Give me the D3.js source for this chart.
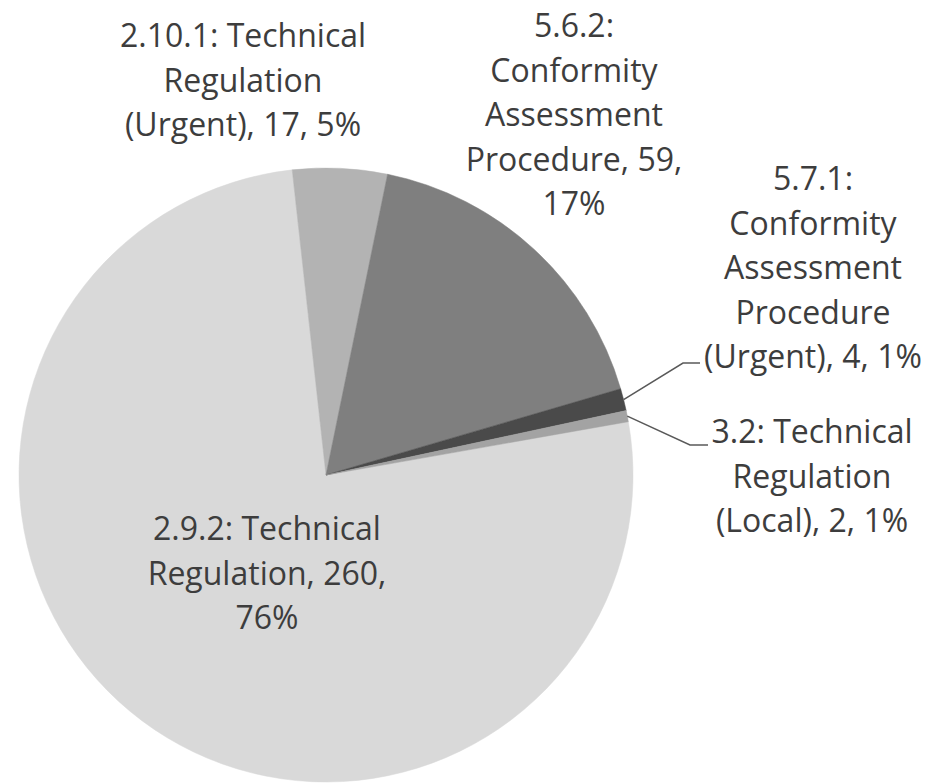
<!DOCTYPE html>
<html><head><meta charset="utf-8">
<script src="https://cdn.jsdelivr.net/npm/d3@7"></script>
<style>html,body{margin:0;padding:0;background:#fff;}svg{display:block;} text{font-variant-ligatures:none;}</style>
</head><body>
<svg id="chart" width="929" height="783"></svg>
<script>
// Data
const categories = ["2.9.2: Technical Regulation", "2.10.1: Technical Regulation (Urgent)", "5.6.2: Conformity Assessment Procedure", "5.7.1: Conformity Assessment Procedure (Urgent)", "3.2: Technical Regulation (Local)"];
const values = [260, 17, 59, 4, 2];
const percentLabels = ["76%", "5%", "17%", "1%", "1%"];
const labelLines = [
  ["2.9.2: Technical", "Regulation, 260,", "76%"],
  ["2.10.1: Technical", "Regulation", "(Urgent), 17, 5%"],
  ["5.6.2:", "Conformity", "Assessment", "Procedure, 59,", "17%"],
  ["5.7.1:", "Conformity", "Assessment", "Procedure", "(Urgent), 4, 1%"],
  ["3.2: Technical", "Regulation", "(Local), 2, 1%"]
];
const colors = ["#d9d9d9", "#b3b3b3", "#7f7f7f", "#4a4a4a", "#a3a3a3"];

// Layout
const cx = 326, cy = 475, R = 307;
const labelPos = [
  {x: 267, y: 540},
  {x: 243, y: 47},
  {x: 574, y: 37},
  {x: 813, y: 190},
  {x: 812, y: 443}
];
const lineH = 44.5;
const leaders = { 3: {elbow: [683, 363], end: [700, 363]}, 4: {elbow: [690, 445], end: [708, 445]} };

const svg = d3.select("#chart");
const g = svg.append("g").attr("transform", `translate(${cx},${cy})`);

const deg = Math.PI / 180;
const pie = d3.pie().sort(null).value(d => d).startAngle(80 * deg).endAngle(440 * deg);
const arcs = pie(values);
const arc = d3.arc().innerRadius(0).outerRadius(R);

g.selectAll("path.slice").data(arcs).enter().append("path")
  .attr("class", "slice")
  .attr("d", arc)
  .attr("fill", (d, i) => colors[i])
  .attr("stroke", (d, i) => colors[i])
  .attr("stroke-width", 0.5);

// leader lines
Object.keys(leaders).forEach(k => {
  const i = +k;
  const a = (arcs[i].startAngle + arcs[i].endAngle) / 2;
  const sx = cx + R * Math.sin(a), sy = cy - R * Math.cos(a);
  const L = leaders[k];
  svg.append("polyline")
    .attr("points", `${sx},${sy} ${L.elbow[0]},${L.elbow[1]} ${L.end[0]},${L.end[1]}`)
    .attr("fill", "none").attr("stroke", "#595959").attr("stroke-width", 1.5);
});

// labels
labelLines.forEach((lines, i) => {
  const t = svg.append("text")
    .attr("x", labelPos[i].x).attr("y", labelPos[i].y)
    .attr("text-anchor", "middle")
    .attr("font-family", "'Open Sans', sans-serif")
    .attr("font-size", 32)
    .attr("fill", "#3d3d3d");
  lines.forEach((ln, j) => {
    t.append("tspan").attr("x", labelPos[i].x).attr("y", labelPos[i].y + j * lineH).text(ln);
  });
});
</script>
</body></html>
